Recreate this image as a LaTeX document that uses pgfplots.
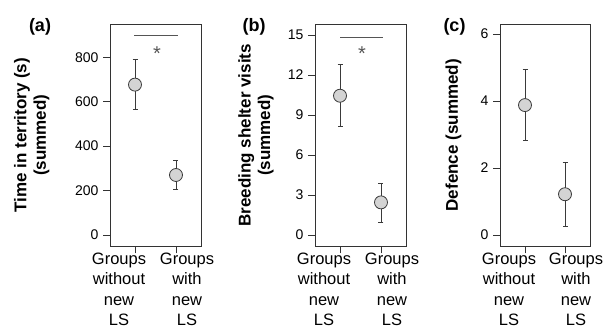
\documentclass[border=0pt]{standalone}
\usepackage{fontspec}
\setmainfont{Liberation Sans}
\usepackage{pgfplots}
\pgfplotsset{compat=1.18}
\definecolor{boxc}{HTML}{333333}
\definecolor{errc}{HTML}{3A3A3A}
\definecolor{sigc}{HTML}{555555}
\definecolor{markf}{HTML}{D4D4D4}
\pgfplotsset{
  panel/.style={
    scale only axis, width=91pt, height=222.5pt,
    anchor=south west,
    xmin=-0.61, xmax=1.61,
    axis line style={boxc, line width=0.9pt},
    xtick={0,1},
    xticklabels={{Groups\\without\\new\\LS},{Groups\\with\\new\\LS}},
    xtick pos=bottom, ytick pos=left,
    tick align=outside,
    major tick length=7pt,
    every tick/.style={boxc, line width=0.9pt},
    xticklabel style={align=center, font=\fontsize{16.5}{20.2}\selectfont, inner sep=1pt, yshift=1.5pt,
      xshift={(\ticknum*27-16)*1pt}},
    yticklabel style={font=\fontsize{14}{14}\selectfont, xshift=-1pt},
    /pgf/number format/assume math mode=true,
    ylabel style={font=\bfseries\fontsize{17}{19.5}\selectfont, align=center, rotate=0, anchor=center},
    clip=false,
  },
  pt/.style={
    only marks, mark=*, mark size=6.5pt,
    mark options={fill=markf, draw=errc, line width=0.8pt},
    error bars/.cd, y dir=both, y explicit,
    error bar style={errc, line width=0.9pt},
    error mark options={rotate=90, mark size=2.5pt, errc, line width=0.9pt},
  },
}
\begin{document}
\begin{tikzpicture}[x=1pt,y=1pt]
% (a)
\begin{axis}[panel, at={(110pt,82.5pt)},
  ymin=-52, ymax=950, ytick={0,200,400,600,800},
  ylabel={Time in territory (s)\\(summed)},
  ylabel style={at={(axis description cs:-0.86,0.5)}}]
\addplot[pt] coordinates {(0,677) += (0,113) -= (0,111) (1,270) += (0,67) -= (0,65)};
\addplot[sigc, line width=1.2pt, mark=none] coordinates {(-0.02,897) (1.04,897)};
\node[font=\fontsize{20}{20}\selectfont, sigc] at (axis cs:0.54,816) {*};
\end{axis}
% (b)
\begin{axis}[panel, at={(315pt,82.5pt)},
  ymin=-0.86, ymax=15.83, ytick={0,3,6,9,12,15},
  ylabel={Breeding shelter visits\\(summed)},
  ylabel style={at={(axis description cs:-0.648,0.5)}}]
\addplot[pt] coordinates {(0,10.45) += (0,2.35) -= (0,2.33) (1,2.45) += (0,1.45) -= (0,1.5)};
\addplot[sigc, line width=1.2pt, mark=none] coordinates {(0,14.8) (1.05,14.8)};
\node[font=\fontsize{20}{20}\selectfont, sigc] at (axis cs:0.54,13.6) {*};
\end{axis}
% (c)
\begin{axis}[panel, at={(500pt,82.5pt)}, width=90pt,
  ymin=-0.34, ymax=6.3, ytick={0,2,4,6},
  xmin=-0.625, xmax=1.625,
  ylabel={Defence (summed)},
  ylabel style={at={(axis description cs:-0.516,0.5)}}]
\addplot[pt] coordinates {(0,3.88) += (0,1.05) -= (0,1.06) (1,1.22) += (0,0.94) -= (0,0.97)};
\end{axis}
\node[font=\bfseries\fontsize{18}{18}\selectfont] at (40pt,302.5pt) {(a)};
\node[font=\bfseries\fontsize{18}{18}\selectfont] at (254pt,302.5pt) {(b)};
\node[font=\bfseries\fontsize{18}{18}\selectfont] at (454.5pt,302.5pt) {(c)};
\pgfresetboundingbox
\path[use as bounding box] (0,0) rectangle (611pt,329pt);
\end{tikzpicture}
\end{document}
